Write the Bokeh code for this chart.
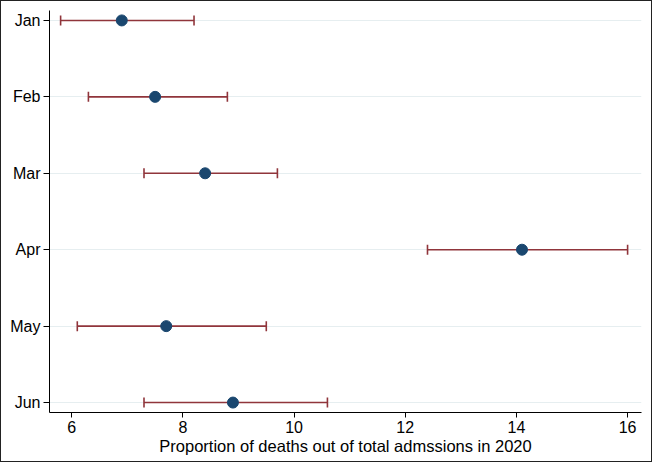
from bokeh.plotting import figure
from bokeh.models import Range1d, FixedTicker, ColumnDataSource, Whisker, TeeHead
from bokeh.embed import file_html
from bokeh.resources import INLINE

months = ["Jan", "Feb", "Mar", "Apr", "May", "Jun"]
month_pos = [1, 2, 3, 4, 5, 6]
estimate = [6.9, 7.5, 8.4, 14.1, 7.7, 8.9]
ci_low = [5.8, 6.3, 7.3, 12.4, 6.1, 7.3]
ci_high = [8.2, 8.8, 9.7, 16.0, 9.5, 10.6]
x_ticks = [6, 8, 10, 12, 14, 16]

src = ColumnDataSource(dict(y=month_pos, est=estimate, lo=ci_low, hi=ci_high))

p = figure(width=652, height=462, output_backend="svg", toolbar_location=None,
           x_range=Range1d(5.6, 16.25), y_range=Range1d(6.13, 0.87),
           min_border_left=48, min_border_right=12, min_border_top=9, min_border_bottom=51)
p.styles = {"border": "1px solid #222222", "box-sizing": "border-box"}
p.outline_line_color = None
p.background_fill_color = "white"
p.border_fill_color = "white"

# axes
p.xaxis.ticker = FixedTicker(ticks=x_ticks)
p.yaxis.ticker = FixedTicker(ticks=month_pos)
p.yaxis.major_label_overrides = {pos: m for pos, m in zip(month_pos, months)}
p.xaxis.axis_label = "Proportion of deaths out of total admssions in 2020"
for ax in (p.xaxis[0], p.yaxis[0]):
    ax.axis_line_color = "black"
    ax.major_tick_line_color = "black"
    ax.minor_tick_line_color = None
    ax.major_tick_in = 0
    ax.major_tick_out = 5
    ax.major_label_text_font = "Liberation Sans"
    ax.major_label_text_font_size = "16px"
    ax.major_label_text_color = "black"
p.yaxis.major_tick_out = 6
p.xaxis.axis_label_text_font = "Liberation Sans"
p.xaxis.axis_label_text_font_size = "16.5px"
p.xaxis.axis_label_text_font_style = "normal"
p.xaxis.axis_label_text_color = "black"
p.xaxis.axis_label_standoff = 1
p.xaxis.major_label_standoff = 3
p.yaxis.major_label_standoff = 3

p.xgrid.grid_line_color = None
p.ygrid.grid_line_color = "#e6eef0"
p.ygrid.grid_line_width = 1

w = Whisker(source=src, base="y", lower="lo", upper="hi", dimension="width",
            line_color="#90353b", line_width=1.6,
            upper_head=TeeHead(size=10, line_color="#90353b", line_width=1.6),
            lower_head=TeeHead(size=10, line_color="#90353b", line_width=1.6))
p.add_layout(w)

p.scatter("est", "y", source=src, size=11, fill_color="#1a476f", line_color="#1a476f")

open("out.html", "w").write(file_html(p, INLINE))
